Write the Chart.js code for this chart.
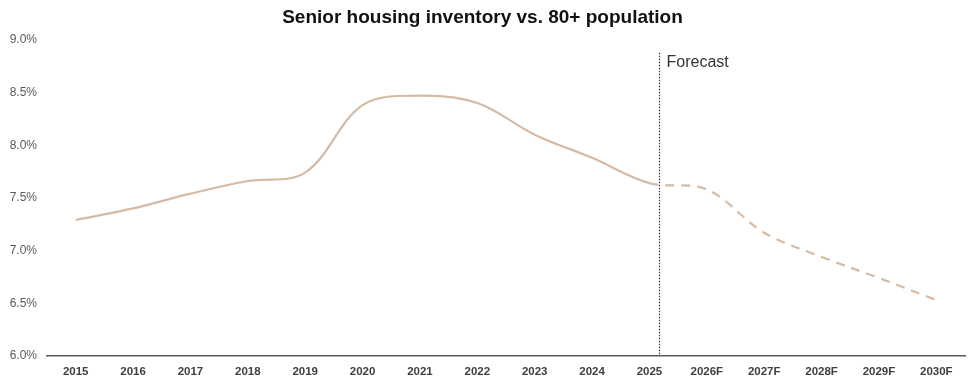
<!DOCTYPE html>
<html>
<head>
<meta charset="utf-8">
<script src="https://cdn.jsdelivr.net/npm/chart.js@4"></script>
<style>
  html, body { margin: 0; padding: 0; background: #ffffff; }
  #wrap { width: 975px; height: 386px; }
</style>
</head>
<body>
<div id="wrap"><canvas id="seniorChart" width="975" height="386"></canvas></div>
<script>
// Data
const years = ['2015', '2016', '2017', '2018', '2019', '2020', '2021', '2022', '2023', '2024', '2025',
               '2026F', '2027F', '2028F', '2029F', '2030F'];
const actualValues = [7.29, 7.40, 7.54, 7.66, 7.74, 8.38, 8.47, 8.40, 8.10, 7.88, 7.64];
const forecastValues = [7.58, 7.17, 6.94, 6.74, 6.53];
const yTicks = [6.0, 6.5, 7.0, 7.5, 8.0, 8.5, 9.0];

const lastActual = actualValues.length - 1;
const allValues = actualValues.concat(forecastValues);

// dotted "Forecast" divider, just after the last actual year
const forecastDivider = {
    id: 'forecastDivider',
    afterDatasetsDraw(chart) {
        const x = chart.scales.x;
        const area = chart.chartArea;
        const step = x.getPixelForValue(lastActual + 1) - x.getPixelForValue(lastActual);
        const px = Math.round(x.getPixelForValue(lastActual) + step * 0.17) + 0.5;
        const ctx = chart.ctx;
        ctx.save();
        ctx.strokeStyle = '#333333';
        ctx.lineWidth = 1.2;
        ctx.setLineDash([1.5, 1.5]);
        ctx.beginPath();
        ctx.moveTo(px, area.top + 13);
        ctx.lineTo(px, area.bottom);
        ctx.stroke();
        ctx.setLineDash([]);
        ctx.fillStyle = '#333333';
        ctx.font = '16px "Liberation Sans", Arial, sans-serif';
        ctx.textBaseline = 'middle';
        ctx.fillText('Forecast', px + 7, area.top + 23);
        ctx.restore();
    }
};

new Chart(document.getElementById('seniorChart').getContext('2d'), {
    type: 'line',
    data: {
        labels: years,
        datasets: [{
            data: allValues,
            borderColor: '#d4bba6',
            borderWidth: 2.2,
            pointRadius: 0,
            tension: 0.35,
            fill: false,
            segment: {
                borderDash: ctx => ctx.p0DataIndex >= lastActual ? [9, 7] : undefined
            }
        }]
    },
    options: {
        responsive: false,
        animation: false,
        layout: { padding: { left: 0, right: 10, top: 0, bottom: 0 } },
        plugins: {
            legend: { display: false },
            tooltip: { enabled: false },
            title: {
                display: true,
                text: 'Senior housing inventory vs. 80+ population',
                color: '#111111',
                font: { family: '"Liberation Sans", Arial, sans-serif', size: 19, weight: 'bold' },
                padding: { top: 6, bottom: 11 }
            }
        },
        scales: {
            x: {
                offset: true,
                grid: { display: false, drawTicks: false },
                border: { display: true, color: '#595959', width: 1.5 },
                ticks: {
                    color: '#404040',
                    font: { family: '"Liberation Sans", Arial, sans-serif', size: 11.5, weight: 'bold' },
                    padding: 9,
                    maxRotation: 0,
                    autoSkip: false
                },
                afterFit(scale) { scale.height = 30; }
            },
            y: {
                min: 6.0,
                max: 9.0,
                afterBuildTicks(scale) { scale.ticks = yTicks.map(v => ({ value: v })); },
                grid: { display: false, drawTicks: false },
                border: { display: false },
                ticks: {
                    color: '#595959',
                    font: { family: '"Liberation Sans", Arial, sans-serif', size: 12 },
                    padding: 10,
                    callback: v => v.toFixed(1) + '%'
                },
                afterFit(scale) { scale.width = 47; }
            }
        }
    },
    plugins: [forecastDivider]
});
</script>
</body>
</html>
